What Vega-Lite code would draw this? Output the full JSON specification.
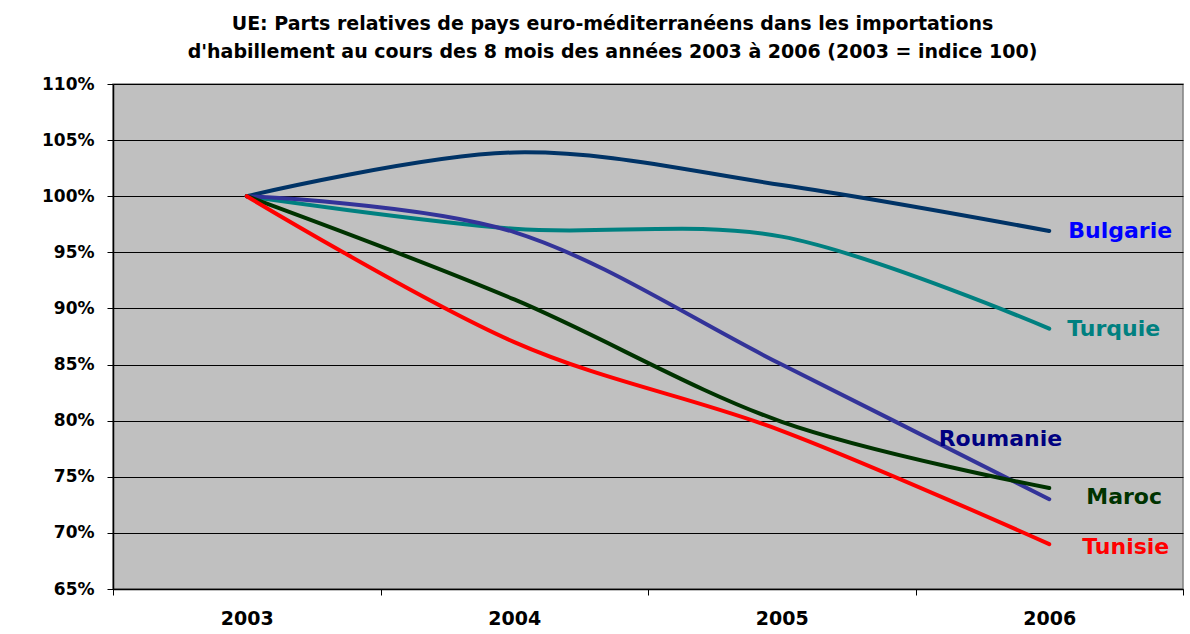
{
  "$schema": "https://vega.github.io/schema/vega-lite/v6.json",
  "width": 1070,
  "height": 505,
  "autosize": {"type": "none"},
  "padding": {"left": 113, "top": 84, "right": 7, "bottom": 45},
  "background": "white",
  "title": {
    "text": ["UE: Parts relatives de pays euro-méditerranéens dans les importations", "d'habillement au cours des 8 mois des années 2003 à 2006 (2003 = indice 100)"],
    "font": "DejaVu Sans",
    "fontSize": 19,
    "fontWeight": "bold",
    "color": "black",
    "anchor": "middle",
    "frame": "bounds",
    "lineHeight": 28,
    "offset": 13
  },
  "config": {
    "view": {"fill": "#C0C0C0", "stroke": "#808080", "strokeWidth": 1.5},
    "axis": {"labelFont": "DejaVu Sans", "labelFontWeight": "bold", "labelColor": "black", "domainColor": "black", "tickColor": "black"}
  },
  "data": {
    "values": [
      {"pays": "Bulgarie", "annee": "2003", "valeur": 1.0},
      {"pays": "Bulgarie", "annee": "2004", "valeur": 1.039},
      {"pays": "Bulgarie", "annee": "2005", "valeur": 1.01},
      {"pays": "Bulgarie", "annee": "2006", "valeur": 0.969},
      {"pays": "Turquie", "annee": "2003", "valeur": 1.0},
      {"pays": "Turquie", "annee": "2004", "valeur": 0.971},
      {"pays": "Turquie", "annee": "2005", "valeur": 0.964},
      {"pays": "Turquie", "annee": "2006", "valeur": 0.882},
      {"pays": "Roumanie", "annee": "2003", "valeur": 1.0},
      {"pays": "Roumanie", "annee": "2004", "valeur": 0.968},
      {"pays": "Roumanie", "annee": "2005", "valeur": 0.85},
      {"pays": "Roumanie", "annee": "2006", "valeur": 0.73},
      {"pays": "Maroc", "annee": "2003", "valeur": 1.0},
      {"pays": "Maroc", "annee": "2004", "valeur": 0.908},
      {"pays": "Maroc", "annee": "2005", "valeur": 0.799},
      {"pays": "Maroc", "annee": "2006", "valeur": 0.74},
      {"pays": "Tunisie", "annee": "2003", "valeur": 1.0},
      {"pays": "Tunisie", "annee": "2004", "valeur": 0.87},
      {"pays": "Tunisie", "annee": "2005", "valeur": 0.791},
      {"pays": "Tunisie", "annee": "2006", "valeur": 0.69}
    ]
  },
  "encoding": {
    "x": {
      "field": "annee", "type": "ordinal", "bandPosition": 0.5,
      "scale": {"type": "band", "paddingInner": 0, "paddingOuter": 0},
      "axis": {"title": null, "labelAngle": 0, "labelFontSize": 19, "tickBand": "extent", "tickSize": 6, "labelPadding": 14, "grid": false, "domainWidth": 1.5}
    },
    "y": {
      "field": "valeur", "type": "quantitative",
      "scale": {"domain": [0.65, 1.10], "nice": false, "zero": false},
      "axis": {"title": null, "format": ".0%", "values": [0.65, 0.7, 0.75, 0.8, 0.85, 0.9, 0.95, 1.0, 1.05, 1.1], "labelFontSize": 17, "tickSize": 6, "labelPadding": 13, "grid": true, "gridColor": "black", "gridWidth": 1, "domainWidth": 1.5}
    }
  },
  "layer": [
    {
      "mark": {"type": "line", "interpolate": "cardinal", "strokeWidth": 4, "strokeCap": "round", "strokeJoin": "round"},
      "encoding": {
        "color": {
          "field": "pays", "type": "nominal", "legend": null,
          "scale": {"domain": ["Bulgarie", "Turquie", "Roumanie", "Maroc", "Tunisie"], "range": ["#003366", "#008080", "#333399", "#003300", "#FF0000"]}
        }
      }
    },
    {
      "transform": [{"filter": "datum.pays == 'Bulgarie' && datum.annee == '2006'"}],
      "mark": {"type": "text", "text": "Bulgarie", "font": "DejaVu Sans", "fontWeight": "bold", "fontSize": 22, "align": "left", "baseline": "middle", "dx": 19, "dy": 0, "color": "#0000FF"}
    },
    {
      "transform": [{"filter": "datum.pays == 'Turquie' && datum.annee == '2006'"}],
      "mark": {"type": "text", "text": "Turquie", "font": "DejaVu Sans", "fontWeight": "bold", "fontSize": 22, "align": "left", "baseline": "middle", "dx": 18, "dy": 0, "color": "#008080"}
    },
    {
      "transform": [{"filter": "datum.pays == 'Roumanie' && datum.annee == '2006'"}],
      "mark": {"type": "text", "text": "Roumanie", "font": "DejaVu Sans", "fontWeight": "bold", "fontSize": 22, "align": "right", "baseline": "middle", "dx": 13, "dy": -60, "color": "#000080"}
    },
    {
      "transform": [{"filter": "datum.pays == 'Maroc' && datum.annee == '2006'"}],
      "mark": {"type": "text", "text": "Maroc", "font": "DejaVu Sans", "fontWeight": "bold", "fontSize": 22, "align": "left", "baseline": "middle", "dx": 37, "dy": 9, "color": "#003300"}
    },
    {
      "transform": [{"filter": "datum.pays == 'Tunisie' && datum.annee == '2006'"}],
      "mark": {"type": "text", "text": "Tunisie", "font": "DejaVu Sans", "fontWeight": "bold", "fontSize": 22, "align": "left", "baseline": "middle", "dx": 33, "dy": 3, "color": "#FF0000"}
    }
  ]
}
